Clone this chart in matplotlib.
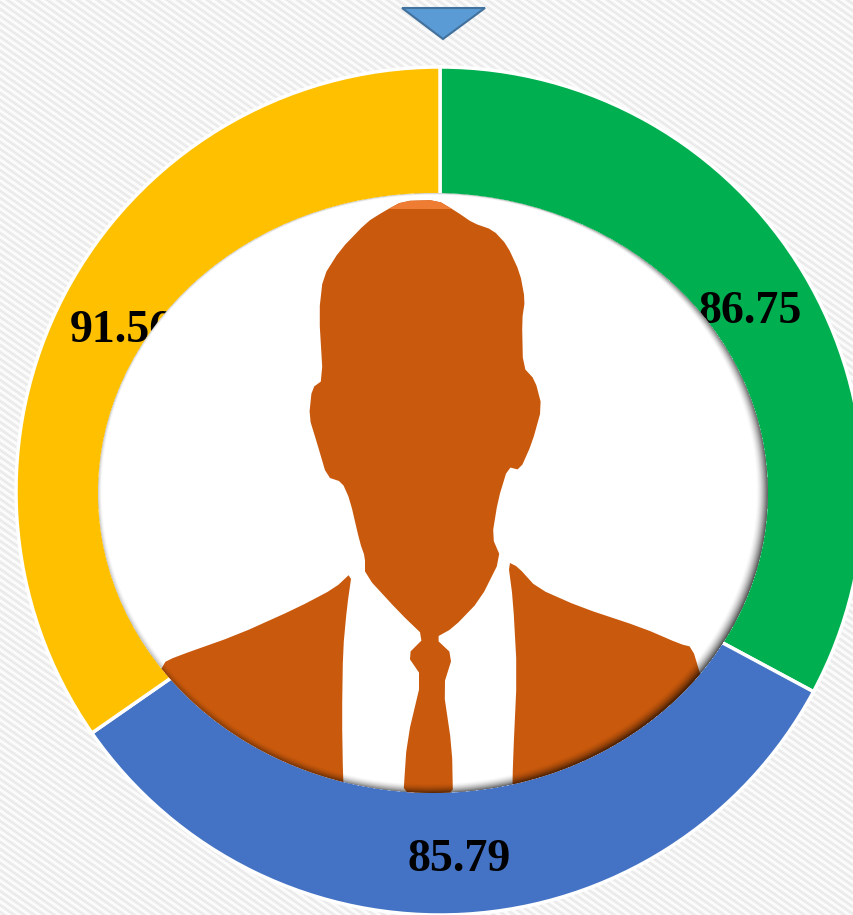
import numpy as np
import matplotlib
matplotlib.use("Agg")
import matplotlib.pyplot as plt
from matplotlib.patches import Ellipse, Polygon, Rectangle

# Data
values = [86.75, 85.79, 91.56]
labels = ["86.75", "85.79", "91.56"]
colors = ["#00B050", "#4472C4", "#FFC000"]
label_xy = [(750, 312), (459, 860), (121, 331)]

W, H = 854, 915
CX, CY, R, RIN = 440, 491, 424, 288
EX, EY, EW, EH = 433, 493, 670, 600
ORANGE = "#C9590C"

head = [(403,201),(437,200),(457,212),(473,223),(493,230),(507,245),(520,273),(525,300),
        (522,320),(523,367),(535,380),(542,407),(532,443),(520,470),(508,467),(498,500),
        (492,537),(501,558),(480,600),(453,628),(435,638),(453,655),(443,687),(452,748),
        (453,800),(403,800),(407,740),(422,677),(407,655),(425,637),(400,613),(365,575),
        (365,557),(360,543),(350,500),(342,482),(327,477),(317,443),(309,417),(312,388),
        (323,380),(319,313),(323,277),(340,250),(367,222),(383,212)]
jacket_l = [(352,572),(335,588),(297,608),(237,635),(175,657),(163,663),(150,700),(345,810),
            (343,777),(342,717),(343,650),(347,607)]
jacket_r = [(508,562),(518,567),(537,588),(580,607),(643,628),(680,644),(692,647),(702,680),
            (720,740),(512,810),(513,760),(517,673),(513,600)]


def Y(py):
    return H - py


def pts(seq):
    return [(x, Y(y)) for x, y in seq]


def smooth(seq, n=1):
    p = np.array(seq, float)
    for _ in range(n):
        q = np.roll(p, -1, axis=0)
        p = np.column_stack([0.8 * p + 0.2 * q, 0.2 * p + 0.8 * q]).reshape(-1, 2)
    return [tuple(v) for v in p]


fig = plt.figure(figsize=(W / 100, H / 100), dpi=100)
ax = fig.add_axes([0, 0, 1, 1])

# Diagonal woven background texture
yy, xx = np.mgrid[0:H, 0:W]
tex = 243 + 10 * np.sin(2 * np.pi * (0.7 * xx - yy) / 7.0) + 4 * np.sin(2 * np.pi * (xx + yy) / 3.0)
ax.imshow(np.clip(tex, 0, 255), cmap="gray", vmin=0, vmax=255, extent=(0, W, 0, H), origin="upper",
          interpolation="nearest", zorder=0, aspect="auto")

ax.pie(values, colors=colors, startangle=90, counterclock=False, center=(CX, Y(CY)), radius=R,
       frame=True, wedgeprops=dict(width=R - RIN, edgecolor="white", linewidth=2.5, zorder=1))
ax.set_xlim(0, W)
ax.set_ylim(0, H)
ax.set_aspect("auto")
ax.axis("off")

for t, (x, y) in zip(labels, label_xy):
    ax.text(x, Y(y), t, ha="center", va="center", fontsize=33, fontweight="bold",
            family="Liberation Serif", color="black", zorder=2)

# Pointer
ax.add_patch(Polygon(pts([(402, 8), (485, 8), (443, 39)]), closed=True, facecolor="#5B9BD5",
                     edgecolor="#41719C", linewidth=1.5, zorder=3))

# Portrait disc
clip = Ellipse((EX, Y(EY)), EW, EH, transform=ax.transData)
ax.add_patch(Ellipse((EX, Y(EY)), EW, EH, facecolor="white", edgecolor="none", zorder=4))
for shape in (head, jacket_l, jacket_r):
    p = Polygon(pts(smooth(shape)), closed=True, facecolor=ORANGE, edgecolor="none", zorder=5)
    ax.add_patch(p)
    p.set_clip_path(clip)
hp = Polygon(pts(smooth(head)), closed=True, transform=ax.transData)
cap = Rectangle((340, Y(209)), 200, 12, facecolor="#EE7C33", edgecolor="none", zorder=6)
ax.add_patch(cap)
cap.set_clip_path(hp)

# Soft bevel on the disc rim: thin at the top, darkest on the right and the bottom
a_, b_ = EW / 2, EH / 2
ux, uy = (xx + 0.5 - EX) / a_, (yy + 0.5 - EY) / b_
rr = np.hypot(ux, uy)
th = np.arctan2(uy, ux)  # 0 = right, pi/2 = bottom
d = (1 - rr) * b_
down = np.sin(th)
right = np.cos(th)
width = 7.5 + 3.5 * right + 2.5 * down - 4.5 * np.clip(-down, 0, 1) ** 2
width = np.clip(width, 2.5, None)
power = 0.40 + 0.27 * right + 0.18 * down
power = np.clip(power, 0.22, 0.8)
alpha = power * np.clip(1 - d / width, 0, 1) ** 1.7
alpha[d < 0] = 0
edge_mask = np.clip(d + 0.5, 0, 1)
rgba = np.zeros((H, W, 4))
rgba[..., 3] = alpha * edge_mask
ax.imshow(rgba, extent=(0, W, 0, H), origin="upper", interpolation="bilinear", zorder=7, aspect="auto")
ax.set_xlim(0, W)
ax.set_ylim(0, H)

fig.savefig("out.png", dpi=100)
